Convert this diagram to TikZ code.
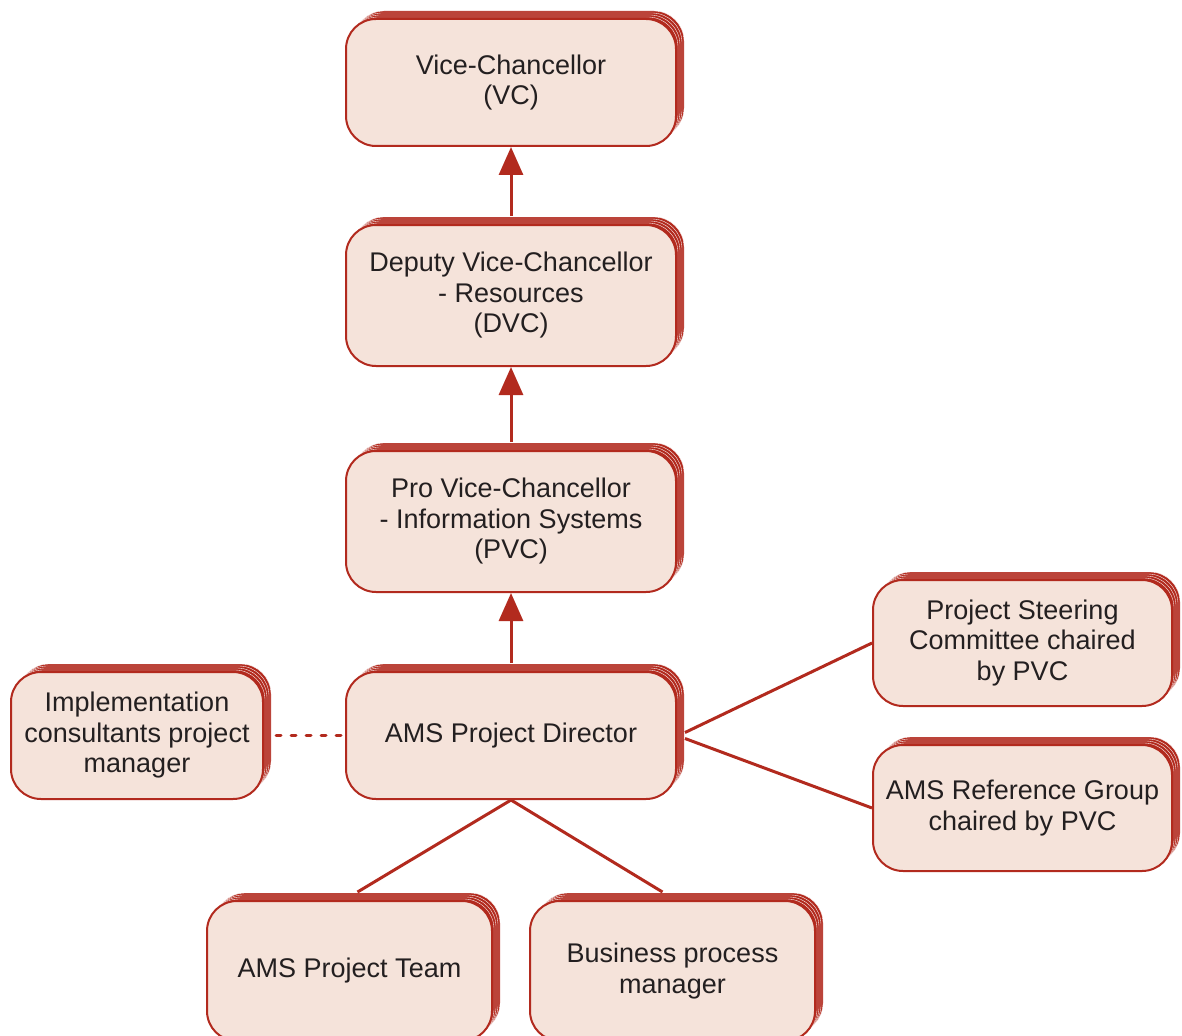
\documentclass[tikz,border=0pt]{standalone}
\usepackage{fontspec}
\setmainfont{Liberation Sans}
\usetikzlibrary{shadows,arrows.meta}
\definecolor{boxline}{HTML}{B22A1E}
\definecolor{boxfill}{HTML}{F5E3DA}
\definecolor{textcol}{HTML}{231F20}
\tikzset{
  layer/.style={general shadow={shadow xshift=#1, shadow yshift=#1, fill=boxline, draw=white, line width=0.35pt}},
  stackbox/.style={
    rectangle, rounded corners=30pt, fill=boxfill, draw=boxline, line width=2pt,
    text=textcol, align=center, inner sep=0pt,
    font=\fontsize{27}{30.5}\selectfont,
    layer=8pt, layer=6pt, layer=4pt, layer=2pt},
  link/.style={draw=boxline, line width=3pt},
  uparrow/.style={link, -{Triangle[length=28pt,width=24pt]}}
}
\begin{document}
\begin{tikzpicture}[x=1pt,y=-1pt]
\useasboundingbox (0,0) rectangle (1182,1035);

\node[stackbox, minimum width=330pt, minimum height=127pt] (VC)  at (511,82.5)  {Vice-Chancellor\\(VC)};
\node[stackbox, minimum width=330pt, minimum height=141pt] (DVC) at (511,295.5) {Deputy Vice-Chancellor\\- Resources\\(DVC)};
\node[stackbox, minimum width=330pt, minimum height=141pt] (PVC) at (511,521.5) {Pro Vice-Chancellor\\- Information Systems\\(PVC)};
\node[stackbox, minimum width=330pt, minimum height=127pt] (DIR) at (511,735.5) {AMS Project Director};
\node[stackbox, minimum width=252pt, minimum height=127pt] (IMP) at (137,735.5) {Implementation\\consultants project\\manager};
\node[stackbox, minimum width=299pt, minimum height=126pt] (STC) at (1022.5,643) {Project Steering\\Committee chaired\\by PVC};
\node[stackbox, minimum width=299pt, minimum height=126pt] (REF) at (1022.5,808) {AMS Reference Group\\chaired by PVC};
\node[stackbox, minimum width=285pt, minimum height=140pt] (TEAM) at (349.5,971) {AMS Project Team};
\node[stackbox, minimum width=285pt, minimum height=140pt] (BUS)  at (672.5,971) {Business process\\manager};

% reporting line upwards
\draw[uparrow] ([yshift=8pt]DVC.north) -- (VC.south);
\draw[uparrow] ([yshift=8pt]PVC.north) -- (DVC.south);
\draw[uparrow] ([yshift=8pt]DIR.north) -- (PVC.south);

% committees
\draw[link] ([xshift=8pt,yshift=3pt]DIR.east) -- (STC.west);
\draw[link] ([xshift=8pt,yshift=-3pt]DIR.east) -- (REF.west);

% team members
\draw[link] (DIR.south) -- ([xshift=8pt,yshift=8pt]TEAM.north);
\draw[link] (DIR.south) -- ([xshift=-10pt,yshift=8pt]BUS.north);

% external consultant
\draw[draw=boxline, line width=3pt, line cap=round, dash pattern=on 5pt off 10pt]
  ([xshift=12pt]IMP.east) -- (DIR.west);
\end{tikzpicture}
\end{document}
